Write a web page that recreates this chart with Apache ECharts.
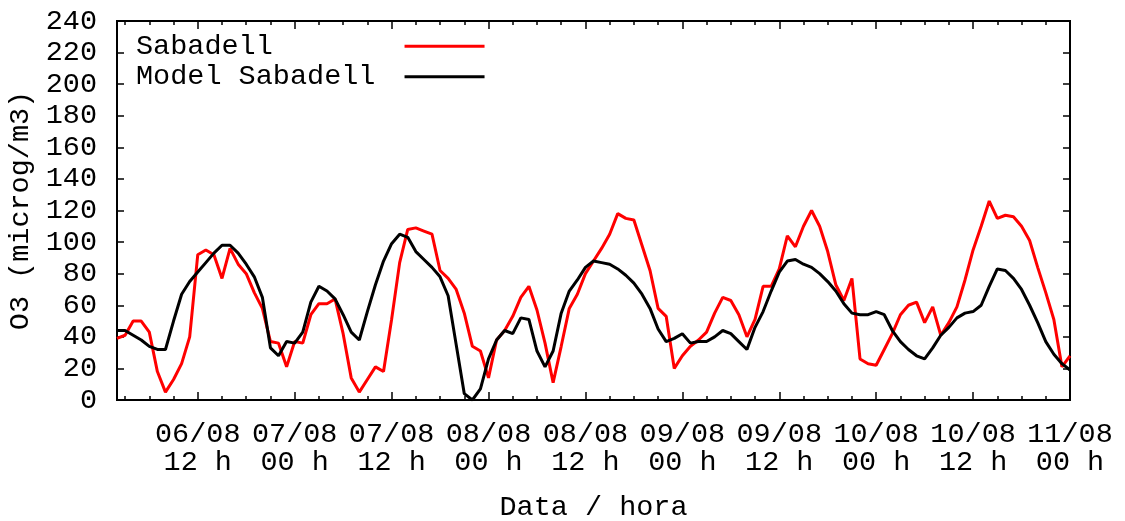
<!DOCTYPE html>
<html>
<head>
<meta charset="utf-8">
<script src="https://cdn.jsdelivr.net/npm/echarts@6/dist/echarts.min.js"></script>
<style>html,body{margin:0;padding:0;background:#fff;}#c{width:1125px;height:521px;}</style>
</head>
<body>
<div id="c"></div>
<script>
// hourly timestamps from 06/08 02 h to 11/08 00 h
const startDay = 6, startHour = 2, nHours = 119;
const categories = [];
for (let i = 0; i < nHours; i++) {
  const h = startHour + i;
  const d = startDay + Math.floor(h / 24), hh = h % 24;
  categories.push(String(d).padStart(2, '0') + '/08 ' + String(hh).padStart(2, '0') + ' h');
}
const xTickLabels = ['06/08 12 h','07/08 00 h','07/08 12 h','08/08 00 h','08/08 12 h',
                     '09/08 00 h','09/08 12 h','10/08 00 h','10/08 12 h','11/08 00 h'];
const yTicks = [0,20,40,60,80,100,120,140,160,180,200,220,240];

const sabadell = [39,41,50,50,43,18,5,13,23,40,92,95,92,77,96,86,80,68,58,37,
  36,21,37,36,54,61,61,64,42,14,5,13,21,18,51,87,108,109,107,105,
  82,77,70,55,34,31,14,38,44,53,65,72,57,36,11,34,58,67,80,88,
  96,105,118,115,114,98,82,58,53,20,28,34,38,43,55,65,63,54,40,51,
  72,72,83,104,97,110,120,110,94,73,63,77,26,23,22,32,42,54,60,62,
  49,59,41,49,59,76,95,110,126,115,117,116,110,101,84,68,51,21,28];
const modelSabadell = [44,44,41,38,34,32,32,50,67,75,81,87,93,98,98,93,86,78,65,33,
  28,37,36,43,62,72,69,64,54,43,38,56,73,88,99,105,103,94,89,84,
  78,66,35,4,0,7,26,38,44,42,52,51,31,21,31,55,69,76,84,88,
  87,86,83,79,74,67,58,45,37,39,42,36,37,37,40,44,42,37,32,46,
  56,69,81,88,89,86,84,80,75,69,61,55,54,54,56,54,44,37,32,28,
  26,33,41,46,52,55,56,60,72,83,82,77,70,60,49,37,29,23,19];

const FONT = 'Liberation Mono';
const FS = 28.5;
const isMajor = (i, v) => xTickLabels.indexOf(v) >= 0;
const isMinor = (i) => (i + startHour) % 3 === 0;
const baseX = {
  type: 'category', data: categories, boundaryGap: false, gridIndex: 0,
  axisLine: { show: false }, splitLine: { show: false }
};
const chart = echarts.init(document.getElementById('c'), null, { renderer: 'canvas' });
chart.setOption({
  backgroundColor: '#fff',
  animation: false,
  textStyle: { fontFamily: FONT, color: '#000' },
  grid: { left: 117, right: 55, top: 21, bottom: 121, containLabel: false, outerBoundsMode: 'none',
    show: true, borderColor: '#000', borderWidth: 2, backgroundColor: 'transparent' },
  legend: {
    orient: 'vertical', left: 131, top: 26, align: 'right', itemGap: 0,
    itemWidth: 80, itemHeight: 3, icon: 'rect',
    textStyle: { fontFamily: FONT, fontSize: FS, color: '#000', lineHeight: 30.5, padding: [0, 7, 0, 0] },
    formatter: (n) => n.padEnd(15, ' '),
    data: ['Sabadell', 'Model Sabadell']
  },
  xAxis: [
    Object.assign({}, baseX, {
      position: 'bottom',
      name: 'Data / hora', nameLocation: 'middle', nameGap: 93,
      nameTextStyle: { fontFamily: FONT, fontSize: FS, color: '#000' },
      axisTick: { show: true, inside: true, length: 8, interval: isMajor, lineStyle: { color: '#000', width: 1.5 } },
      axisLabel: { interval: isMajor, margin: 20, fontFamily: FONT, fontSize: FS, color: '#000', lineHeight: 28,
        formatter: (v) => v.replace(' ', '\n') }
    }),
    Object.assign({}, baseX, {
      position: 'bottom',
      axisTick: { show: true, inside: true, length: 4, interval: isMinor, lineStyle: { color: '#000', width: 1.5 } },
      axisLabel: { show: false }
    }),
    Object.assign({}, baseX, {
      position: 'top',
      axisTick: { show: true, inside: true, length: 8, interval: isMajor, lineStyle: { color: '#000', width: 1.5 } },
      axisLabel: { show: false }
    }),
    Object.assign({}, baseX, {
      position: 'top',
      axisTick: { show: true, inside: true, length: 4, interval: isMinor, lineStyle: { color: '#000', width: 1.5 } },
      axisLabel: { show: false }
    })
  ],
  yAxis: [
    {
      type: 'value', position: 'left', min: yTicks[0], max: yTicks[yTicks.length - 1], interval: 20,
      name: 'O3 (microg/m3)', nameLocation: 'middle', nameGap: 70, nameRotate: 90,
      nameTextStyle: { fontFamily: FONT, fontSize: FS, color: '#000' },
      axisLine: { show: false }, splitLine: { show: false },
      axisTick: { show: true, inside: true, length: 7, lineStyle: { color: '#000', width: 1.5 } },
      axisLabel: { margin: 20, fontFamily: FONT, fontSize: FS, color: '#000' }
    },
    {
      type: 'value', position: 'right', min: yTicks[0], max: yTicks[yTicks.length - 1], interval: 20,
      axisLine: { show: false }, splitLine: { show: false },
      axisTick: { show: true, inside: true, length: 7, lineStyle: { color: '#000', width: 1.5 } },
      axisLabel: { show: false }
    }
  ],
  series: [
    { name: 'Sabadell', type: 'line', data: sabadell, xAxisIndex: 0, yAxisIndex: 0,
      symbol: 'none', color: '#ff0000', lineStyle: { color: '#ff0000', width: 3 } },
    { name: 'Model Sabadell', type: 'line', data: modelSabadell, xAxisIndex: 0, yAxisIndex: 0,
      symbol: 'none', color: '#000000', lineStyle: { color: '#000000', width: 3 } }
  ]
});
</script>
</body>
</html>
